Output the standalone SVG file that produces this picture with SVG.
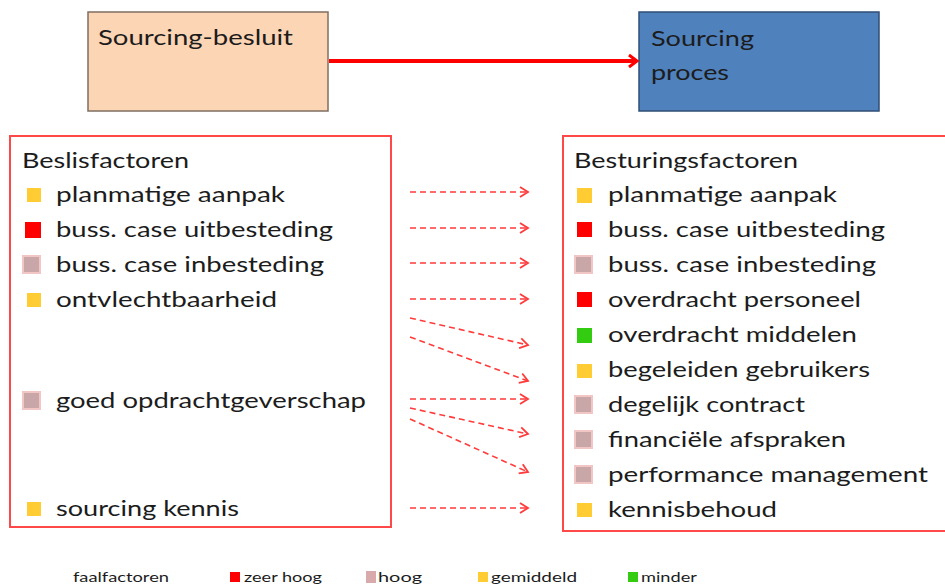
<svg xmlns="http://www.w3.org/2000/svg" width="945" height="586" viewBox="0 0 945 586">
<defs>
<style>
text{font-family:Lato,"Open Sans","Liberation Sans",sans-serif;fill:#1c1c1c}
.t{font-size:22px}
.lg{font-size:14px}
.frame{fill:none;stroke:#FF4848;stroke-width:2}
.dash{fill:none;stroke:#FF3B3B;stroke-width:1.6;stroke-dasharray:6 4}
.y{fill:#FFCC33}
.r{fill:#FF0000}
.p{fill:#C9A7A9;stroke:#F3C6C6;stroke-width:2}
.g{fill:#33CC11}
</style>
<marker id="ah" markerWidth="12" markerHeight="12" refX="10" refY="6" orient="auto" markerUnits="userSpaceOnUse">
<path d="M2,1 L10,6 L2,11" fill="none" stroke="#FF3B3B" stroke-width="1.8"/>
</marker>
<marker id="ahBig" markerWidth="16" markerHeight="16" refX="13" refY="8" orient="auto" markerUnits="userSpaceOnUse">
<path d="M5,2 L13,8 L5,14" fill="none" stroke="#FF0000" stroke-width="3"/>
</marker>
</defs>
<rect width="945" height="586" fill="#FFFFFF"/>

<g id="sourcing-besluit">
<rect x="88" y="12" width="240" height="99" fill="#FCD5B5" stroke="#7F6E62" stroke-width="1.5"/>
<text class="t" x="98" y="45" textLength="195" lengthAdjust="spacingAndGlyphs">Sourcing-besluit</text>
</g>

<g id="sourcing-proces">
<rect x="639" y="12" width="240" height="99" fill="#4F81BD" stroke="#2F4F75" stroke-width="1.5"/>
<text class="t" x="651" y="46" textLength="103" lengthAdjust="spacingAndGlyphs">Sourcing</text>
<text class="t" x="651" y="80" textLength="78" lengthAdjust="spacingAndGlyphs">proces</text>
</g>

<g id="beslisfactoren">
<rect class="frame" x="10" y="136" width="381" height="391"/>
<text class="t" x="22" y="168" textLength="167" lengthAdjust="spacingAndGlyphs">Beslisfactoren</text>
<rect class="y" x="27" y="188" width="14" height="14"/>
<text class="t" x="56" y="202" textLength="229" lengthAdjust="spacingAndGlyphs">planmatige aanpak</text>
<rect class="r" x="25" y="222" width="16" height="16"/>
<text class="t" x="56" y="237" textLength="277" lengthAdjust="spacingAndGlyphs">buss. case uitbesteding</text>
<rect class="p" x="23" y="256" width="17" height="17"/>
<text class="t" x="56" y="272" textLength="268" lengthAdjust="spacingAndGlyphs">buss. case inbesteding</text>
<rect class="y" x="27" y="293" width="14" height="14"/>
<text class="t" x="56" y="307" textLength="221" lengthAdjust="spacingAndGlyphs">ontvlechtbaarheid</text>
<rect class="p" x="23" y="392" width="17" height="17"/>
<text class="t" x="56" y="408" textLength="310" lengthAdjust="spacingAndGlyphs">goed opdrachtgeverschap</text>
<rect class="y" x="27" y="502" width="14" height="14"/>
<text class="t" x="56" y="516" textLength="183" lengthAdjust="spacingAndGlyphs">sourcing kennis</text>
</g>

<g id="besturingsfactoren">
<rect class="frame" x="563" y="136" width="400" height="395"/>
<text class="t" x="574" y="168" textLength="224" lengthAdjust="spacingAndGlyphs">Besturingsfactoren</text>
<rect class="y" x="577" y="188" width="15" height="15"/>
<text class="t" x="608" y="202" textLength="229" lengthAdjust="spacingAndGlyphs">planmatige aanpak</text>
<rect class="r" x="577" y="222" width="15" height="15"/>
<text class="t" x="608" y="237" textLength="277" lengthAdjust="spacingAndGlyphs">buss. case uitbesteding</text>
<rect class="p" x="575" y="256" width="17" height="17"/>
<text class="t" x="608" y="272" textLength="268" lengthAdjust="spacingAndGlyphs">buss. case inbesteding</text>
<rect class="r" x="577" y="292" width="15" height="15"/>
<text class="t" x="608" y="307" textLength="253" lengthAdjust="spacingAndGlyphs">overdracht personeel</text>
<rect class="g" x="577" y="328" width="15" height="15"/>
<text class="t" x="608" y="342" textLength="249" lengthAdjust="spacingAndGlyphs">overdracht middelen</text>
<rect class="y" x="577" y="364" width="15" height="14"/>
<text class="t" x="608" y="377" textLength="262" lengthAdjust="spacingAndGlyphs">begeleiden gebruikers</text>
<rect class="p" x="575" y="396" width="17" height="17"/>
<text class="t" x="608" y="412" textLength="197" lengthAdjust="spacingAndGlyphs">degelijk contract</text>
<rect class="p" x="575" y="431" width="17" height="17"/>
<text class="t" x="608" y="447" textLength="238" lengthAdjust="spacingAndGlyphs">financiële afspraken</text>
<rect class="p" x="575" y="466" width="17" height="17"/>
<text class="t" x="608" y="482" textLength="320" lengthAdjust="spacingAndGlyphs">performance management</text>
<rect class="y" x="577" y="503" width="15" height="14"/>
<text class="t" x="608" y="517" textLength="169" lengthAdjust="spacingAndGlyphs">kennisbehoud</text>
</g>

<g id="connectors">
<line x1="329" y1="61" x2="637" y2="61" stroke="#FF0000" stroke-width="4" marker-end="url(#ahBig)"/>
<line class="dash" x1="410" y1="192" x2="528" y2="192" marker-end="url(#ah)"/>
<line class="dash" x1="410" y1="228" x2="528" y2="228" marker-end="url(#ah)"/>
<line class="dash" x1="410" y1="263" x2="528" y2="263" marker-end="url(#ah)"/>
<line class="dash" x1="410" y1="299" x2="528" y2="299" marker-end="url(#ah)"/>
<line class="dash" x1="410" y1="318" x2="528" y2="345" marker-end="url(#ah)"/>
<line class="dash" x1="410" y1="337" x2="528" y2="381" marker-end="url(#ah)"/>
<line class="dash" x1="410" y1="399" x2="528" y2="399" marker-end="url(#ah)"/>
<line class="dash" x1="410" y1="408" x2="528" y2="434" marker-end="url(#ah)"/>
<line class="dash" x1="410" y1="419" x2="528" y2="472" marker-end="url(#ah)"/>
<line class="dash" x1="410" y1="508" x2="528" y2="508" marker-end="url(#ah)"/>
</g>

<g id="legend">
<text class="lg" x="73" y="582" textLength="96" lengthAdjust="spacingAndGlyphs">faalfactoren</text>
<rect class="r" x="230" y="572" width="10" height="10"/>
<text class="lg" x="244" y="582" textLength="78" lengthAdjust="spacingAndGlyphs">zeer hoog</text>
<rect x="366" y="571" width="10" height="12" fill="#D8AAAC"/>
<text class="lg" x="378" y="582" textLength="44" lengthAdjust="spacingAndGlyphs">hoog</text>
<rect class="y" x="478" y="572" width="10" height="10"/>
<text class="lg" x="491" y="582" textLength="86" lengthAdjust="spacingAndGlyphs">gemiddeld</text>
<rect class="g" x="628" y="572" width="10" height="10"/>
<text class="lg" x="641" y="582" textLength="56" lengthAdjust="spacingAndGlyphs">minder</text>
</g>
</svg>
